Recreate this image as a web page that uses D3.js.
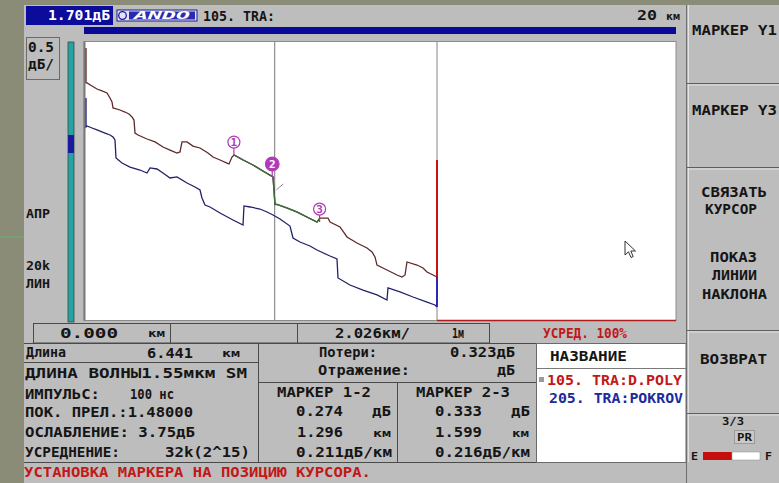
<!DOCTYPE html>
<html>
<head>
<meta charset="utf-8">
<script src="https://cdn.jsdelivr.net/npm/d3@7"></script>
<style>
  html, body { margin: 0; padding: 0; background: #8b8c78; }
  svg { display: block; }
</style>
</head>
<body>
<svg id="otdr" width="779" height="483"></svg>
<script>
// ---- Trace 105.TRA : D.POLY  (distance, km / level below top of screen, dB)
const polyKm = [0.068,0.068,0.101,0.270,0.439,0.608,0.777,0.878,0.946,0.980,1.216,1.385,1.520,1.622,1.689,1.723,1.824,2.128,2.399,2.669,2.905,3.142,3.243,3.311,3.480,3.682,3.919,4.189,4.358,4.595,4.831,4.899,5.000,5.068,5.372,5.709,6.047,6.385,6.419,6.453,6.520,6.858,7.196,7.534,7.872,7.973,8.243,8.311,8.649,8.885,9.223,9.561,9.730,9.831,9.899,10.236,10.574,10.743,10.845,10.912,11.250,11.453,11.588,11.858,11.926,11.926];
const polyDb = [0.071,0.482,0.482,0.518,0.553,0.576,0.600,0.659,0.706,0.776,0.800,0.824,0.847,0.882,0.918,1.071,1.094,1.141,1.176,1.235,1.271,1.306,1.294,1.176,1.176,1.224,1.247,1.306,1.353,1.388,1.424,1.435,1.353,1.329,1.388,1.447,1.518,1.588,1.750,1.911,1.911,1.953,2.000,2.059,2.118,2.071,2.071,2.118,2.176,2.294,2.365,2.424,2.471,2.529,2.624,2.682,2.741,2.765,2.741,2.588,2.624,2.659,2.706,2.753,2.765,1.388];

// ---- Trace 205.TRA : POKROV
const pokrovKm = [0.068,0.068,0.101,0.270,0.439,0.709,0.878,0.980,1.047,1.081,1.284,1.554,1.892,2.128,2.230,2.466,2.669,2.905,3.142,3.480,3.750,3.919,3.986,4.088,4.257,4.595,5.034,5.372,5.405,5.608,5.946,6.182,6.385,6.622,6.959,7.061,7.297,7.635,7.872,8.311,8.547,8.581,8.986,9.426,9.899,10.236,10.270,10.676,11.115,11.588,11.858,11.926,11.926];
const pokrovDb = [0.659,1.000,0.988,1.012,1.035,1.071,1.094,1.118,1.153,1.365,1.424,1.471,1.506,1.541,1.482,1.494,1.541,1.600,1.588,1.659,1.706,1.741,1.835,1.918,1.941,2.012,2.094,2.153,1.929,1.941,1.965,2.000,2.035,2.082,2.165,2.306,2.353,2.400,2.447,2.518,2.553,2.776,2.859,2.918,2.976,3.035,2.894,2.941,3.000,3.059,3.094,3.118,2.765];

// ---- Markers and cursor
const marker2Km = 6.36;
const markerSpanKm = [1.296, 1.599];          // 1-2, 2-3
const markerLossDb = [0.274, 0.333];
const markerSlope  = [0.211, 0.216];
const markerLevelDb = [1.33, 1.588, 2.118];   // trace level under each marker
const cursorKm = 6.441;
const spliceLossDb = 0.323;
const rangeKm = [0, 20];
const levelDb = [0, 3.25];

const markerKm = [marker2Km - markerSpanKm[0], marker2Km, marker2Km + markerSpanKm[1]];

const FONT = "'DejaVu Sans Mono', 'Liberation Mono', monospace";
const INK = "#151515", RED = "#c21818", BLUE = "#1c2a9c", SCREEN = "#bdbdbd";

const svg = d3.select("#otdr");

function txt(x, y, s, len, o = {}) {
  const t = svg.append("text")
    .attr("x", x).attr("y", y).text(s)
    .attr("font-family", FONT)
    .attr("font-size", o.fs || 14)
    .attr("font-weight", o.fw || "bold")
    .attr("fill", o.fill || INK);
  if (len) t.attr("textLength", len).attr("lengthAdjust", "spacingAndGlyphs");
  return t;
}
function line(x1, y1, x2, y2, stroke, w = 1) {
  return svg.append("line").attr("x1", x1).attr("y1", y1).attr("x2", x2).attr("y2", y2)
    .attr("stroke", stroke).attr("stroke-width", w);
}

// ---- frame of the slide and the instrument screen
svg.append("rect").attr("x", 0).attr("y", 0).attr("width", 779).attr("height", 483).attr("fill", "#8b8c78");
line(0, 237, 24, 237, "#6fa86f", 1.5);
svg.append("rect").attr("x", 24).attr("y", 5).attr("width", 755).attr("height", 478).attr("fill", SCREEN);

// ---- top status strip
svg.append("rect").attr("x", 26).attr("y", 6).attr("width", 87).attr("height", 19).attr("fill", "#0c0c9c");
txt(48, 20, "1.701дБ", 62, { fill: "#ffffff" });
svg.append("rect").attr("x", 117).attr("y", 10).attr("width", 80).attr("height", 11).attr("fill", "#e4e4f0").attr("stroke", "#1a1a9a");
svg.append("circle").attr("cx", 122.5).attr("cy", 15.5).attr("r", 3.8).attr("fill", "none").attr("stroke", "#1a1a9a").attr("stroke-width", 1.3);
svg.append("rect").attr("x", 129).attr("y", 11.5).attr("width", 66).attr("height", 8).attr("fill", "#2a2ab0");
txt(134, 19, "ANDO", 56, { fs: 10, fill: "#ffffff" }).attr("font-style", "italic");
txt(203, 21, "105. TRA:", 72);
txt(637, 20, "20", 20);
txt(666, 20, "км", 14, { fs: 10 });

// range bar above the plot
svg.append("rect").attr("x", 84).attr("y", 27).attr("width", 592).attr("height", 7).attr("fill", "#0a0a9a");

// ---- left column: scale box, attenuator bar, labels
svg.append("rect").attr("x", 26.5).attr("y", 37.5).attr("width", 33).attr("height", 42)
  .attr("fill", SCREEN).attr("stroke", "#6a6a6a");
txt(28, 52, "0.5", 26);
txt(28, 69, "дБ/", 26);
svg.append("rect").attr("x", 68).attr("y", 42).attr("width", 6).attr("height", 280)
  .attr("fill", "#23a3a3").attr("stroke", "#3a4a4a").attr("stroke-width", 0.8);
svg.append("rect").attr("x", 68).attr("y", 135).attr("width", 6).attr("height", 18).attr("fill", "#1a1aa0");
txt(26, 218, "АПР", 24, { fs: 12 });
txt(26, 270, "20k", 24, { fs: 12 });
txt(26, 288, "ЛИН", 24, { fs: 12 });

// ---- plot area
const x = d3.scaleLinear().domain(rangeKm).range([84, 676]);
const y = d3.scaleLinear().domain(levelDb).range([42, 318.25]);
const plotTop = 41.5, plotBottom = 320.5;

svg.append("rect").attr("x", 84).attr("y", plotTop).attr("width", 592).attr("height", plotBottom - plotTop)
  .attr("fill", "#ffffff").attr("stroke", "#8c8c8c").attr("stroke-width", 1);
line(84.5, plotTop, 84.5, plotBottom, "#7a7a7a", 2);

// cursor line and fibre-end line
line(x(cursorKm), plotTop, x(cursorKm), plotBottom, "#8e8e8e", 1.2);
const endKm = polyKm[polyKm.length - 1];
line(x(endKm), plotTop, x(endKm), plotBottom, "#9a9a9a", 1.2);
line(x(endKm), plotBottom, 676, plotBottom, "#b01c1c", 1.6);

const trace = d3.line().x(d => x(d[0])).y(d => y(d[1]));
const poly = polyKm.map((k, i) => [k, polyDb[i]]);
const pokrov = pokrovKm.map((k, i) => [k, pokrovDb[i]]);

// lower trace (POKROV)
svg.append("path").attr("d", trace(pokrov.slice(0, -1)))
  .attr("fill", "none").attr("stroke", "#22226a").attr("stroke-width", 1.3);
svg.append("path").attr("d", trace(pokrov.slice(-2)))
  .attr("fill", "none").attr("stroke", "#2a2ab4").attr("stroke-width", 2);

// upper trace (D.POLY)
svg.append("path").attr("d", trace(poly.slice(0, -1)))
  .attr("fill", "none").attr("stroke", "#5e2a2a").attr("stroke-width", 1.3);
svg.append("path").attr("d", trace(poly.slice(-2)))
  .attr("fill", "none").attr("stroke", "#c41414").attr("stroke-width", 2);

// slope segments between markers shown in green
svg.append("clipPath").attr("id", "mk").append("rect")
  .attr("x", x(markerKm[0])).attr("y", plotTop).attr("width", x(markerKm[2]) - x(markerKm[0])).attr("height", plotBottom - plotTop);
svg.append("path").attr("d", trace(poly.slice(0, -1))).attr("clip-path", "url(#mk)")
  .attr("fill", "none").attr("stroke", "#3e6a3e").attr("stroke-width", 1.4);

// small event flag next to the splice
line(x(marker2Km) + 4, y(markerLevelDb[1]) + 13, x(marker2Km) + 11, y(markerLevelDb[1]) + 7, "#8a8a8a", 1);

// marker symbols
const MK = "#b03ab8";
markerKm.forEach((k, i) => {
  const cx = x(k), ly = y(markerLevelDb[i]), cy = ly - 13;
  line(cx, cy + 6, cx, ly, i === 2 ? "#c0305a" : MK, 1.2);
  const filled = i === 1;
  svg.append("circle").attr("cx", cx).attr("cy", cy).attr("r", filled ? 6.8 : 6)
    .attr("fill", filled ? MK : "#ffffff").attr("stroke", MK).attr("stroke-width", 1.2);
  svg.append("text").attr("x", cx).attr("y", cy + 4).attr("text-anchor", "middle")
    .attr("font-family", FONT).attr("font-size", 11).attr("font-weight", "bold")
    .attr("fill", filled ? "#ffffff" : MK).text(String(i + 1));
});

// mouse pointer
svg.append("path")
  .attr("d", "M0,0 L0,14 L3.5,10.8 L6,16.5 L8.2,15.5 L5.8,10 L10.5,10 Z")
  .attr("transform", "translate(625,241)")
  .attr("fill", "#ffffff").attr("stroke", "#303030").attr("stroke-width", 1);

// ---- row under the plot
svg.append("rect").attr("x", 33.5).attr("y", 323.5).attr("width", 456).attr("height", 19.5)
  .attr("fill", SCREEN).attr("stroke", "#4a4a4a");
line(170.5, 323.5, 170.5, 343, "#4a4a4a");
line(297.5, 323.5, 297.5, 343, "#4a4a4a");
txt(60, 338, "0.000", 58);
txt(148, 337, "км", 17, { fs: 11 });
txt(335, 338, "2.026км/", 75);
txt(452, 338, "1м", 12);
txt(543, 338, "УСРЕД. 100%", 84, { fill: RED });

// ---- lower information panel
line(24, 343.5, 686, 343.5, "#4a4a4a");
line(24, 462.5, 686, 462.5, "#4a4a4a");
line(24, 362.5, 258, 362.5, "#4a4a4a");
line(258.5, 343, 258.5, 462.5, "#4a4a4a");
line(258, 382.5, 536, 382.5, "#4a4a4a");
line(397.5, 382.5, 397.5, 462.5, "#4a4a4a");

txt(26, 357, "Длина", 40);
txt(147, 358, "6.441", 46);
txt(222, 357, "км", 18, { fs: 11 });
txt(25, 378, "ДЛИНА ВОЛНЫ1.55мкм SM", 222);
txt(25, 399, "ИМПУЛЬС:", 75);
txt(130, 399, "100 нс", 44);
txt(25, 417, "ПОК. ПРЕЛ.:1.48000", 168);
txt(25, 437, "ОСЛАБЛЕНИЕ: 3.75дБ", 170);
txt(25, 457, "УСРЕДНЕНИЕ:", 95);
txt(165, 457, "32k(2^15)", 85);
txt(24, 477, "УСТАНОВКА МАРКЕРА НА ПОЗИЦИЮ КУРСОРА.", 347, { fill: RED });

txt(319, 357, "Потери:", 58);
txt(450, 357, spliceLossDb.toFixed(3) + "дБ", 65);
txt(318, 375, "Отражение:", 92);
txt(497, 375, "дБ", 18);

txt(277, 397, "МАРКЕР 1-2", 94);
txt(296, 416, markerLossDb[0].toFixed(3), 47);
txt(372, 416, "дБ", 19);
txt(297, 437, markerSpanKm[0].toFixed(3), 46);
txt(373, 437, "км", 18, { fs: 11 });
txt(296, 457, markerSlope[0].toFixed(3) + "дБ/км", 96);

txt(416, 397, "МАРКЕР 2-3", 94);
txt(435, 416, markerLossDb[1].toFixed(3), 47);
txt(511, 416, "дБ", 19);
txt(435, 437, markerSpanKm[1].toFixed(3), 47);
txt(512, 437, "км", 17, { fs: 11 });
txt(435, 457, markerSlope[1].toFixed(3) + "дБ/км", 95);

// trace list
svg.append("rect").attr("x", 536.5).attr("y", 343.5).attr("width", 149.5).attr("height", 119)
  .attr("fill", "#ffffff").attr("stroke", "#6a6a6a");
line(537, 368.5, 686, 368.5, "#7a7a7a");
txt(550, 361, "НАЗВАНИЕ", 77);
svg.append("rect").attr("x", 539).attr("y", 377).attr("width", 5).attr("height", 5).attr("fill", "#9a9a9a");
txt(547, 385, "105. TRA:D.POLY", 135, { fill: RED });
txt(549, 403, "205. TRA:POKROV", 134, { fill: BLUE });

// ---- soft-key column
line(686.5, 5, 686.5, 483, "#6e6e6e");
line(688.5, 5, 688.5, 462, "#e4e4e4");
[83, 167, 330, 413].forEach(v => {
  line(687, v + 0.5, 779, v + 0.5, "#5e5e5e");
  line(689, v + 2, 779, v + 2, "#e0e0e0");
});
txt(692, 35, "МАРКЕР Y1", 85);
txt(692, 115, "МАРКЕР Y3", 85);
txt(701, 197, "СВЯЗАТЬ", 66);
txt(705, 214, "КУРСОР", 52);
txt(710, 262, "ПОКАЗ", 47);
txt(712, 280, "ЛИНИИ", 45);
txt(702, 299, "НАКЛОНА", 65);
txt(700, 364, "ВОЗВРАТ", 67);
txt(722, 425, "3/3", 22, { fs: 11 });
svg.append("rect").attr("x", 734.5).attr("y", 430.5).attr("width", 20).attr("height", 13).attr("fill", "#c9c9c9").attr("stroke", "#9a9a9a");
txt(737, 441, "PR", 15, { fs: 11 });
txt(691, 460, "E", 7, { fs: 10 });
svg.append("rect").attr("x", 703).attr("y", 452).attr("width", 29).attr("height", 8).attr("fill", "#c40e0e");
svg.append("rect").attr("x", 732).attr("y", 452).attr("width", 28).attr("height", 8).attr("fill", "#ffffff").attr("stroke", "#9a9a9a").attr("stroke-width", 0.6);
txt(765, 460, "F", 7, { fs: 10 });
</script>
</body>
</html>
